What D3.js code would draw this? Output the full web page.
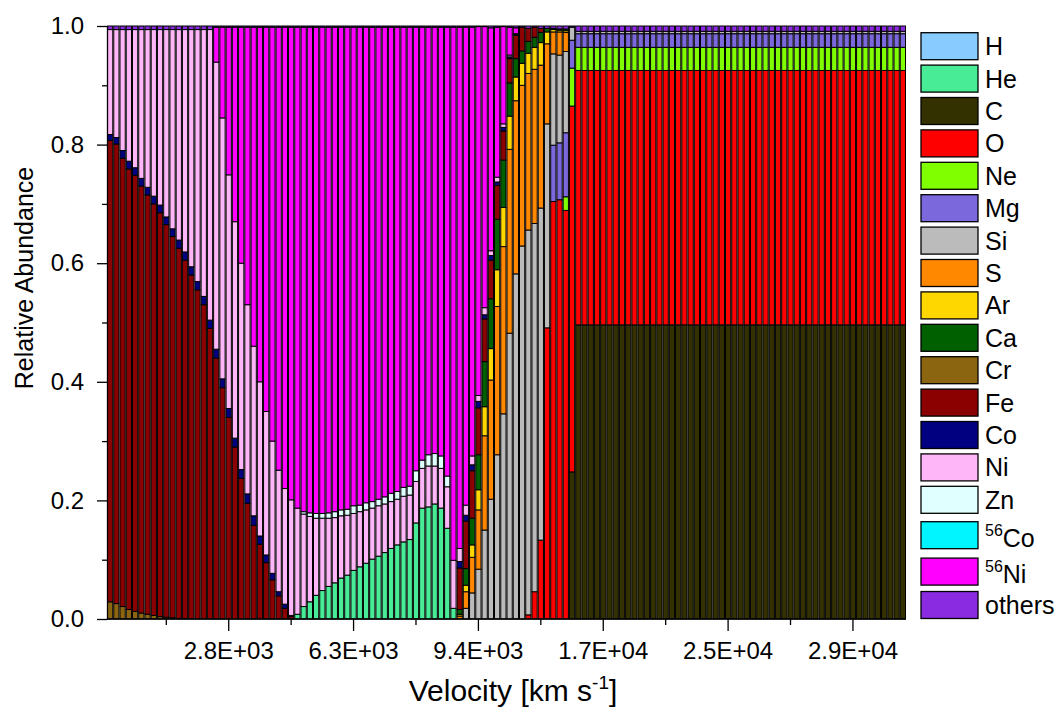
<!DOCTYPE html>
<html>
<head>
<meta charset="utf-8">
<script src="https://cdn.jsdelivr.net/npm/d3@7"></script>
<style>
  html, body { margin: 0; padding: 0; background: #fff; }
  svg { display: block; font-family: "Liberation Sans", Arial, Helvetica, sans-serif; }
</style>
</head>
<body>
<svg id="chart" width="1062" height="715"></svg>
<script>
// Shell numbers (one stacked bar per ejecta shell)
const shells = d3.range(1, 129);

// Mass fractions per shell, one array per element (16 shells per line)
const H = [
0,0,0,0,0,0,0,0,0,0,0,0,0,0,0,0,
0,0,0,0,0,0,0,0,0,0,0,0,0,0,0,0,
0,0,0,0,0,0,0,0,0,0,0,0,0,0,0,0,
0,0,0,0,0,0,0,0,0,0,0,0,0,0,0,0,
0,0,0,0,0,0,0,0,0,0,0,0,0,0,0,0,
0,0,0,0,0,0,0,0,0,0,0,0,0,0,0,0,
0,0,0,0,0,0,0,0,0,0,0,0,0,0,0,0,
0,0,0,0,0,0,0,0,0,0,0,0,0,0,0,0];
const He = [
0,0,0,0,0,0,0,0,0,0,0,0,0,0,0,0,
0,0,0,0,0,0,0,0,0,0,0,0,0,0,.008,.021,
.029,.040,.048,.055,.061,.069,.074,.082,.088,.094,.101,.106,.112,.119,.125,.130,
.134,.162,.187,.189,.194,.187,.153,.018,0,0,0,0,0,0,0,0,
0,0,0,0,0,0,0,0,0,0,0,0,0,0,0,0,
0,0,0,0,0,0,0,0,0,0,0,0,0,0,0,0,
0,0,0,0,0,0,0,0,0,0,0,0,0,0,0,0,
0,0,0,0,0,0,0,0,0,0,0,0,0,0,0,0];
const C = [
0,0,0,0,0,0,0,0,0,0,0,0,0,0,0,0,
0,0,0,0,0,0,0,0,0,0,0,0,0,0,0,0,
0,0,0,0,0,0,0,0,0,0,0,0,0,0,0,0,
0,0,0,0,0,0,0,0,0,0,0,0,0,0,0,0,
0,0,0,0,0,0,0,0,0,0,.248,.496,.496,.496,.496,.496,
.496,.496,.496,.496,.496,.496,.496,.496,.496,.496,.496,.496,.496,.496,.496,.496,
.496,.496,.496,.496,.496,.496,.496,.496,.496,.496,.496,.496,.496,.496,.496,.496,
.496,.496,.496,.496,.496,.496,.496,.496,.496,.496,.496,.496,.496,.496,.496,.496];
const O = [
0,0,0,0,0,0,0,0,0,0,0,0,0,0,0,0,
0,0,0,0,0,0,0,0,0,0,0,0,0,0,0,0,
0,0,0,0,0,0,0,0,0,0,0,0,0,0,0,0,
0,0,0,0,0,0,0,0,0,0,0,0,0,0,0,0,
0,0,0,.007,.046,.133,.491,.704,.707,.689,.617,.429,.429,.429,.429,.429,
.429,.429,.429,.429,.429,.429,.429,.429,.429,.429,.429,.429,.429,.429,.429,.429,
.429,.429,.429,.429,.429,.429,.429,.429,.429,.429,.429,.429,.429,.429,.429,.429,
.429,.429,.429,.429,.429,.429,.429,.429,.429,.429,.429,.429,.429,.429,.429,.429];
const Ne = [
0,0,0,0,0,0,0,0,0,0,0,0,0,0,0,0,
0,0,0,0,0,0,0,0,0,0,0,0,0,0,0,0,
0,0,0,0,0,0,0,0,0,0,0,0,0,0,0,0,
0,0,0,0,0,0,0,0,0,0,0,0,0,0,0,0,
0,0,0,0,0,0,0,0,0,.023,.064,.039,.039,.039,.039,.039,
.039,.039,.039,.039,.039,.039,.039,.039,.039,.039,.039,.039,.039,.039,.039,.039,
.039,.039,.039,.039,.039,.039,.039,.039,.039,.039,.039,.039,.039,.039,.039,.039,
.039,.039,.039,.039,.039,.039,.039,.039,.039,.039,.039,.039,.039,.039,.039,.039];
const Mg = [
0,0,0,0,0,0,0,0,0,0,0,0,0,0,0,0,
0,0,0,0,0,0,0,0,0,0,0,0,0,0,0,0,
0,0,0,0,0,0,0,0,0,0,0,0,0,0,0,0,
0,0,0,0,0,0,0,0,0,0,0,0,0,0,0,0,
0,0,0,0,0,0,0,.095,.096,.108,.047,.023,.023,.023,.023,.023,
.023,.023,.023,.023,.023,.023,.023,.023,.023,.023,.023,.023,.023,.023,.023,.023,
.023,.023,.023,.023,.023,.023,.023,.023,.023,.023,.023,.023,.023,.023,.023,.023,
.023,.023,.023,.023,.023,.023,.023,.023,.023,.023,.023,.023,.023,.023,.023,.023];
const Si = [
0,0,0,0,0,0,0,0,0,0,0,0,0,0,0,0,
0,0,0,0,0,0,0,0,0,0,0,0,0,0,0,0,
0,0,0,0,0,0,0,0,0,0,0,0,0,0,0,0,
0,0,0,0,0,0,0,0,0,.018,.044,.084,.150,.202,.277,.346,
.482,.582,.629,.649,.621,.560,.344,.154,.148,.137,.022,.004,.004,.004,.004,.004,
.004,.004,.004,.004,.004,.004,.004,.004,.004,.004,.004,.004,.004,.004,.004,.004,
.004,.004,.004,.004,.004,.004,.004,.004,.004,.004,.004,.004,.004,.004,.004,.004,
.004,.004,.004,.004,.004,.004,.004,.004,.004,.004,.004,.004,.004,.004,.004,.004];
const S = [
0,0,0,0,0,0,0,0,0,0,0,0,0,0,0,0,
0,0,0,0,0,0,0,0,0,0,0,0,0,0,0,0,
0,0,0,0,0,0,0,0,0,0,0,0,0,0,0,0,
0,0,0,0,0,0,0,0,.005,.028,.060,.100,.159,.201,.250,.282,
.310,.292,.271,.264,.260,.241,.135,.037,.039,.032,0,0,0,0,0,0,
0,0,0,0,0,0,0,0,0,0,0,0,0,0,0,0,
0,0,0,0,0,0,0,0,0,0,0,0,0,0,0,0,
0,0,0,0,0,0,0,0,0,0,0,0,0,0,0,0];
const Ar = [
0,0,0,0,0,0,0,0,0,0,0,0,0,0,0,0,
0,0,0,0,0,0,0,0,0,0,0,0,0,0,0,0,
0,0,0,0,0,0,0,0,0,0,0,0,0,0,0,0,
0,0,0,0,0,0,0,0,.003,.011,.021,.034,.049,.053,.062,.066,
.056,.040,.037,.034,.037,.038,.020,.004,.003,.003,0,0,0,0,0,0,
0,0,0,0,0,0,0,0,0,0,0,0,0,0,0,0,
0,0,0,0,0,0,0,0,0,0,0,0,0,0,0,0,
0,0,0,0,0,0,0,0,0,0,0,0,0,0,0,0];
const Ca = [
0,0,0,0,0,0,0,0,0,0,0,0,0,0,0,0,
0,0,0,0,0,0,0,0,0,0,0,0,0,0,0,0,
0,0,0,0,0,0,0,0,0,0,0,0,0,0,0,0,
0,0,0,0,0,0,0,0,.008,.028,.045,.059,.076,.084,.085,.080,
.056,.031,.021,.020,.017,.017,.006,.002,.002,.003,0,0,0,0,0,0,
0,0,0,0,0,0,0,0,0,0,0,0,0,0,0,0,
0,0,0,0,0,0,0,0,0,0,0,0,0,0,0,0,
0,0,0,0,0,0,0,0,0,0,0,0,0,0,0,0];
const Cr = [
.029,.026,.021,.016,.013,.010,.008,.006,.004,.003,.002,.001,.001,0,0,0,
0,0,0,0,0,0,0,0,0,0,0,0,0,0,0,0,
0,0,0,0,0,0,0,0,0,0,0,0,0,0,0,0,
0,0,0,0,0,0,0,0,0,0,0,0,0,0,0,0,
0,0,0,0,0,0,0,0,0,0,0,0,0,0,0,0,
0,0,0,0,0,0,0,0,0,0,0,0,0,0,0,0,
0,0,0,0,0,0,0,0,0,0,0,0,0,0,0,0,
0,0,0,0,0,0,0,0,0,0,0,0,0,0,0,0];
const Fe = [
.778,.775,.756,.743,.735,.720,.707,.694,.681,.662,.643,.624,.604,.580,.555,.530,
.490,.440,.390,.340,.290,.237,.195,.158,.126,.095,.066,.039,.018,.004,0,0,
0,0,0,0,0,0,0,0,0,0,0,0,0,0,0,0,
0,0,0,0,0,0,0,0,.070,.080,.080,.079,.072,.065,.057,.049,
.041,.039,.040,.022,.017,.007,0,0,0,0,0,0,0,0,0,0,
0,0,0,0,0,0,0,0,0,0,0,0,0,0,0,0,
0,0,0,0,0,0,0,0,0,0,0,0,0,0,0,0,
0,0,0,0,0,0,0,0,0,0,0,0,0,0,0,0];
const Co = [
.010,.011,.013,.013,.013,.013,.013,.013,.013,.013,.013,.014,.014,.014,.014,.014,
.014,.015,.015,.015,.015,.015,.016,.016,.014,.013,.011,.007,.007,.002,0,0,
0,0,0,0,0,0,0,0,0,0,0,0,0,0,0,0,
0,0,0,0,0,0,0,0,.011,.010,.010,.011,.007,.008,.006,.006,
.003,.002,0,0,0,0,0,0,0,0,0,0,0,0,0,0,
0,0,0,0,0,0,0,0,0,0,0,0,0,0,0,0,
0,0,0,0,0,0,0,0,0,0,0,0,0,0,0,0,
0,0,0,0,0,0,0,0,0,0,0,0,0,0,0,0];
const Ni = [
.177,.182,.204,.222,.233,.251,.266,.281,.296,.316,.336,.355,.375,.400,.425,.450,
.490,.484,.440,.394,.365,.348,.319,.286,.260,.242,.223,.205,.195,.195,.179,.156,
.144,.130,.122,.115,.110,.105,.101,.096,.093,.090,.086,.085,.082,.079,.077,.077,
.075,.070,.067,.069,.064,.067,.070,.081,.022,.017,.015,.010,.012,.008,.008,.006,
.003,.001,0,0,0,0,0,0,0,0,0,0,0,0,0,0,
0,0,0,0,0,0,0,0,0,0,0,0,0,0,0,0,
0,0,0,0,0,0,0,0,0,0,0,0,0,0,0,0,
0,0,0,0,0,0,0,0,0,0,0,0,0,0,0,0];
const Zn = [
0,0,0,0,0,0,0,0,0,0,0,0,0,0,0,0,
0,0,0,0,0,0,0,0,0,0,0,0,0,0,0,.004,
.006,.008,.008,.009,.010,.010,.010,.013,.011,.012,.011,.011,.012,.014,.013,.015,
.015,.018,.014,.019,.021,.021,.018,0,0,0,0,0,0,0,0,0,
0,0,0,0,0,0,0,0,0,0,0,0,0,0,0,0,
0,0,0,0,0,0,0,0,0,0,0,0,0,0,0,0,
0,0,0,0,0,0,0,0,0,0,0,0,0,0,0,0,
0,0,0,0,0,0,0,0,0,0,0,0,0,0,0,0];
const Co56 = [
0,0,0,0,0,0,0,0,0,0,0,0,0,0,0,0,
0,0,0,0,0,0,0,0,0,0,0,0,0,0,0,0,
0,0,0,0,0,0,0,0,0,0,0,0,0,0,0,0,
0,0,0,0,0,0,0,0,0,0,0,0,0,0,0,0,
0,0,0,0,0,0,0,0,0,0,0,0,0,0,0,0,
0,0,0,0,0,0,0,0,0,0,0,0,0,0,0,0,
0,0,0,0,0,0,0,0,0,0,0,0,0,0,0,0,
0,0,0,0,0,0,0,0,0,0,0,0,0,0,0,0];
const Ni56 = [
0,0,0,0,0,0,0,0,0,0,0,0,0,0,0,0,
0,.059,.153,.249,.328,.398,.468,.538,.598,.648,.698,.747,.778,.797,.811,.817,
.819,.820,.820,.819,.817,.814,.813,.807,.806,.802,.800,.796,.792,.786,.783,.776,
.774,.748,.730,.721,.719,.723,.757,.899,.879,.806,.723,.622,.474,.376,.253,.164,
.047,.010,0,0,0,0,0,0,0,0,0,0,0,0,0,0,
0,0,0,0,0,0,0,0,0,0,0,0,0,0,0,0,
0,0,0,0,0,0,0,0,0,0,0,0,0,0,0,0,
0,0,0,0,0,0,0,0,0,0,0,0,0,0,0,0];
const others = [
.006,.006,.006,.006,.006,.006,.006,.006,.006,.006,.006,.006,.006,.006,.006,.006,
.006,.002,.002,.002,.002,.002,.002,.002,.002,.002,.002,.002,.002,.002,.002,.002,
.002,.002,.002,.002,.002,.002,.002,.002,.002,.002,.002,.002,.002,.002,.002,.002,
.002,.002,.002,.002,.002,.002,.002,.002,.002,.002,.002,.001,.001,.003,.002,.001,
.002,.003,.002,.004,.002,.004,.004,.004,.005,.005,.002,.009,.009,.009,.009,.009,
.009,.009,.009,.009,.009,.009,.009,.009,.009,.009,.009,.009,.009,.009,.009,.009,
.009,.009,.009,.009,.009,.009,.009,.009,.009,.009,.009,.009,.009,.009,.009,.009,
.009,.009,.009,.009,.009,.009,.009,.009,.009,.009,.009,.009,.009,.009,.009,.009];

// Labelled ticks on the shell axis (velocity of that shell)
const majorTickShells = [20, 40, 60, 80, 100, 120];
const majorTickLabels = ["2.8E+03", "6.3E+03", "9.4E+03", "1.7E+04", "2.5E+04", "2.9E+04"];
const minorTickShells = [10, 30, 50, 70, 90, 110];

// Elements, bottom of the stack first
const elements = [
  { key: "H",      name: "H",      color: "#88CCFF", values: H },
  { key: "He",     name: "He",     color: "#48EC96", values: He },
  { key: "C",      name: "C",      color: "#333100", values: C },
  { key: "O",      name: "O",      color: "#FF0000", values: O },
  { key: "Ne",     name: "Ne",     color: "#80FF00", values: Ne },
  { key: "Mg",     name: "Mg",     color: "#7B68DD", values: Mg },
  { key: "Si",     name: "Si",     color: "#BBBBBB", values: Si },
  { key: "S",      name: "S",      color: "#FF8800", values: S },
  { key: "Ar",     name: "Ar",     color: "#FFD700", values: Ar },
  { key: "Ca",     name: "Ca",     color: "#006000", values: Ca },
  { key: "Cr",     name: "Cr",     color: "#8B6510", values: Cr },
  { key: "Fe",     name: "Fe",     color: "#8B0000", values: Fe },
  { key: "Co",     name: "Co",     color: "#000080", values: Co },
  { key: "Ni",     name: "Ni",     color: "#FFB6F8", values: Ni },
  { key: "Zn",     name: "Zn",     color: "#E0FFFF", values: Zn },
  { key: "Co56",   name: "Co", sup: "56", color: "#00F5FF", values: Co56 },
  { key: "Ni56",   name: "Ni", sup: "56", color: "#FF00FF", values: Ni56 },
  { key: "others", name: "others", color: "#8A2BE2", values: others }
];

const svg = d3.select("#chart");
const plot = { left: 107, right: 906, top: 26, bottom: 619 };

const x = d3.scaleBand().domain(shells).range([plot.left, plot.right]).padding(0);
const y = d3.scaleLinear().domain([0, 1]).range([plot.bottom, plot.top]);

const rows = shells.map((s, i) => {
  const r = { shell: s };
  elements.forEach(e => { r[e.key] = e.values[i]; });
  return r;
});
const stacked = d3.stack().keys(elements.map(e => e.key))(rows);
const colorOf = Object.fromEntries(elements.map(e => [e.key, e.color]));

// Stacked bars
svg.append("g")
  .selectAll("g")
  .data(stacked)
  .join("g")
  .attr("fill", d => colorOf[d.key])
  .selectAll("rect")
  .data(d => d.filter(p => p[1] - p[0] > 0))
  .join("rect")
  .attr("x", d => x(d.data.shell) + 0.5)
  .attr("width", x.bandwidth() - 1)
  .attr("y", d => y(d[1]))
  .attr("height", d => y(d[0]) - y(d[1]))
  .attr("stroke", "#000")
  .attr("stroke-width", 1);

// X axis
const xMajor = d3.axisBottom(x)
  .tickValues(majorTickShells)
  .tickFormat((d, i) => majorTickLabels[i])
  .tickSize(12).tickSizeOuter(0).tickPadding(11);
const xMinor = d3.axisBottom(x)
  .tickValues(minorTickShells)
  .tickFormat("")
  .tickSize(6).tickSizeOuter(0);

const gxMinor = svg.append("g").attr("transform", `translate(0,${plot.bottom})`).call(xMinor);
gxMinor.select(".domain").remove();
const gx = svg.append("g").attr("transform", `translate(0,${plot.bottom})`).call(xMajor);
gx.select(".domain").attr("d", `M${plot.left},0H${plot.right}`);

// Y axis
const yMajor = d3.axisLeft(y)
  .tickValues([0, 0.2, 0.4, 0.6, 0.8, 1.0])
  .tickFormat(d3.format(".1f"))
  .tickSize(10).tickSizeOuter(0).tickPadding(13);
const yMinor = d3.axisLeft(y)
  .tickValues([0.1, 0.3, 0.5, 0.7, 0.9])
  .tickFormat("")
  .tickSize(5).tickSizeOuter(0);

const gyMinor = svg.append("g").attr("transform", `translate(${plot.left},0)`).call(yMinor);
gyMinor.select(".domain").remove();
const gy = svg.append("g").attr("transform", `translate(${plot.left},0)`).call(yMajor);

svg.selectAll(".tick text")
  .attr("font-family", '"Liberation Sans", Arial, sans-serif')
  .attr("font-size", 24)
  .attr("fill", "#000");
svg.selectAll(".tick line, .domain").attr("stroke", "#000").attr("stroke-width", 1.3);

// Axis titles
svg.append("text")
  .attr("transform", "translate(33,278) rotate(-90)")
  .attr("text-anchor", "middle")
  .attr("font-size", 25)
  .text("Relative Abundance");

const xTitle = svg.append("text")
  .attr("x", 513).attr("y", 701)
  .attr("text-anchor", "middle")
  .attr("font-size", 30);
xTitle.append("tspan").text("Velocity [km s");
xTitle.append("tspan").attr("font-size", 19).attr("dy", -12).text("-1");
xTitle.append("tspan").attr("dy", 12).text("]");

// Legend
const legend = svg.append("g");
let legendTop = 32.7;
elements.forEach((e, i) => {
  if (i > 0) {
    legendTop += 32.4;
    if (e.sup) legendTop += 3;
    if (elements[i - 1].sup) legendTop += 1;
  }
  legend.append("rect")
    .attr("x", 921).attr("y", legendTop)
    .attr("width", 57).attr("height", 27)
    .attr("fill", e.color)
    .attr("stroke", "#000").attr("stroke-width", 1.3);
  const t = legend.append("text")
    .attr("x", 985)
    .attr("y", legendTop + (e.sup ? 25 : 22.5))
    .attr("font-size", 25);
  if (e.sup) {
    t.append("tspan").attr("font-size", 16).attr("dy", -11).text(e.sup);
    t.append("tspan").attr("dy", 11).text(e.name);
  } else {
    t.text(e.name);
  }
});
</script>
</body>
</html>
